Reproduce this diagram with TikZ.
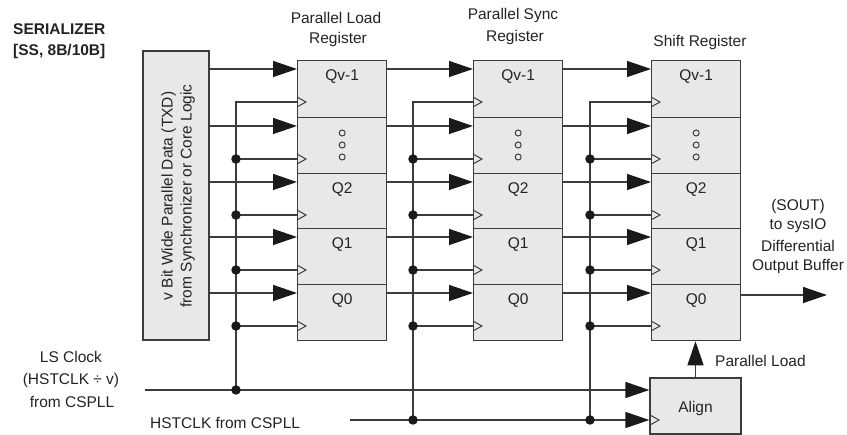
\documentclass[tikz,border=0pt]{standalone}
\usepackage{fontspec}
\setmainfont{Liberation Sans}
\usetikzlibrary{arrows.meta,calc}
\definecolor{ln}{HTML}{3C3C3C}
\definecolor{bx}{HTML}{E8E8E8}
\definecolor{tx}{HTML}{232323}
\definecolor{tip}{HTML}{1A1A1A}
\begin{document}
\begin{tikzpicture}[x=1pt,y=-1pt,
  font=\fontsize{15.5}{19}\selectfont, text=tx,
  cell/.style={draw=ln, line width=1.3pt, fill=bx, minimum width=89pt, inner sep=0pt, anchor=north west},
  blk/.style={draw=ln, line width=1.3pt, fill=bx, inner sep=0pt},
  wire/.style={draw=ln, line width=1.4pt},
  dataarrow/.style={wire, -{Triangle[length=24pt,width=16pt,color=tip,fill=tip]}},
  clk/.style={draw=ln, line width=1pt, line join=miter},
  dotnode/.style={circle, fill=tip, inner sep=0pt, minimum size=9.5pt},
  ring/.style={draw=ln, line width=1pt},
  qlab/.style={inner sep=0pt},
  plain/.style={inner sep=0pt, align=center}]
\useasboundingbox (0,0) rectangle (847,435);

% title
\node[plain, anchor=west, font=\fontsize{15.5}{19}\selectfont\bfseries] (t1) at (13,29) {SERIALIZER};
\node[plain, anchor=west, font=\fontsize{15.5}{19}\selectfont\bfseries] (t2) at (13,51) {[SS, 8B/10B]};

% register titles
\node[plain] (h1a) at (336,18) {Parallel Load};
\node[plain] (h1b) at (338,39) {Register};
\node[plain] (h2a) at (513,15) {Parallel Sync};
\node[plain] (h2b) at (515,37) {Register};
\node[plain] (h3) at (700,42) {Shift Register};

% left source block
\node[blk, minimum width=66pt, minimum height=289pt] (lb) at (176,195.5) {};
\node[plain, rotate=90] (lbt) at (178,196) {v Bit Wide Parallel Data (TXD)\\from Synchronizer or Core Logic};

% registers
\foreach \rr/\xx in {1/297, 2/473, 3/651} {
  \foreach \k/\top/\hh/\lab in {0/60/57/Qv-1, 1/117/56/{}, 2/173/55/Q2, 3/228/56/Q1, 4/284/56/Q0} {
    \node[cell, minimum height=\hh pt] (r\rr c\k) at (\xx,\top) {};
    \node[qlab] (q\rr c\k) at ($(r\rr c\k.north)+(0,17)$) {\lab};
    \coordinate (d\rr c\k) at ($(r\rr c\k.north west)+(0,9)$);
    \coordinate (k\rr c\k) at ($(r\rr c\k.north west)+(0,42)$);
    \draw[clk] ($(k\rr c\k)+(0,-5)$) -- ++(9,5) -- ++(-9,5);
  }
  \draw[ring] ($(r\rr c1.north)+(0,16)$) circle[radius=3pt];
  \draw[ring] ($(r\rr c1.north)+(0,28)$) circle[radius=3pt];
  \draw[ring] ($(r\rr c1.north)+(0,40)$) circle[radius=3pt];
}

% align block
\node[blk, minimum width=91pt, minimum height=56pt] (al) at (695.5,406) {};
\node[plain] (alt) at (695.5,408) {Align};
\coordinate (alk) at (650,420);
\draw[clk] ($(alk)+(0,-5)$) -- ++(9,5) -- ++(-9,5);

% data paths
\foreach \k in {0,...,4} {
  \draw[dataarrow] (lb.east |- d1c\k) -- (d1c\k);
  \draw[dataarrow] (r1c\k.east |- d2c\k) -- (d2c\k);
  \draw[dataarrow] (r2c\k.east |- d3c\k) -- (d3c\k);
}

% clock inputs
\coordinate (lsin) at (145,390);
\coordinate (hsin) at (350,420);
\coordinate (b1) at (236,0);
\coordinate (b2) at (413,0);
\coordinate (b3) at (590,0);

\draw[wire] (k1c0) -| (b1 |- lsin);
\draw[wire] (k2c0) -| (b2 |- hsin);
\draw[wire] (k3c0) -| (b3 |- hsin);
\foreach \k in {1,...,4} {
  \draw[wire] (b1 |- k1c\k) -- (k1c\k);
  \draw[wire] (b2 |- k2c\k) -- (k2c\k);
  \draw[wire] (b3 |- k3c\k) -- (k3c\k);
  \node[dotnode] (p1c\k) at (b1 |- k1c\k) {};
  \node[dotnode] (p2c\k) at (b2 |- k2c\k) {};
  \node[dotnode] (p3c\k) at (b3 |- k3c\k) {};
}
\draw[dataarrow] (lsin) -- (lsin -| al.west);
\draw[dataarrow] (hsin) -- (hsin -| al.west);
\node[dotnode] (j1) at (b1 |- lsin) {};
\node[dotnode] (j2) at (b2 |- hsin) {};
\node[dotnode] (j3) at (b3 |- hsin) {};

% parallel load
\draw[dataarrow] (al.north) -- (al.north |- r3c4.south);
\node[plain, anchor=west] (pl) at (715,361) {Parallel Load};

% serial output
\coordinate (sout) at (827,295);
\draw[dataarrow] (r3c4.east |- sout) -- (sout);
\node[plain] (o1) at (798,206) {(SOUT)};
\node[plain] (o2) at (798,226) {to sysIO};
\node[plain] (o3) at (798,246) {Differential};
\node[plain] (o4) at (798,267) {Output Buffer};

% clock labels
\node[plain] (c1) at (71,357) {LS Clock};
\node[plain] (c2) at (71,380) {(HSTCLK ÷ v)};
\node[plain] (c3) at (72,402) {from CSPLL};
\node[plain, anchor=west] (c4) at (150,423) {HSTCLK from CSPLL};
\end{tikzpicture}
\end{document}
